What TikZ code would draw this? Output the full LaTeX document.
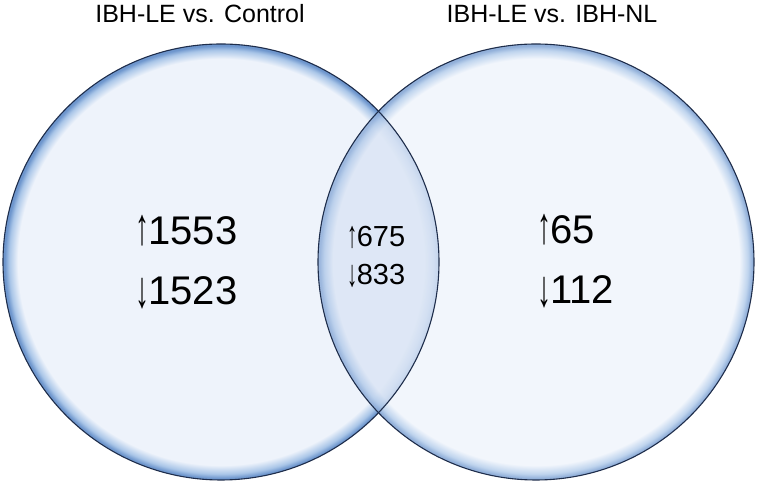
\documentclass[tikz,border=0pt]{standalone}
\usepackage{fontspec}
\setmainfont{Liberation Sans}
\usepackage{graphicx}
\usetikzlibrary{positioning}
\definecolor{vennfill}{RGB}{238, 243, 251}
\definecolor{vennglow}{RGB}{170, 198, 232}
\definecolor{vennedge}{RGB}{110, 150, 205}
\definecolor{vennline}{RGB}{30, 45, 75}
\definecolor{lenstint}{RGB}{190, 208, 236}
\pgfdeclareradialshading{venn}{\pgfpoint{0bp}{0bp}}{%
  color(0bp)=(vennfill); color(23.3bp)=(vennfill); color(24.3bp)=(vennglow);
  color(24.8bp)=(vennedge); color(25bp)=(vennedge); color(50bp)=(vennedge)}
\newcommand{\upar}{\raisebox{-0.02em}{\scalebox{0.7}[1.3]{↑}}\hspace{-0.02em}}
\newcommand{\downar}{\raisebox{-0.08em}{\scalebox{0.7}[1.3]{↓}}\hspace{-0.02em}}

\begin{document}
\begin{tikzpicture}[x=1pt, y=1pt,
    vennset/.style={shading=venn},
    count/.style={anchor=west, inner sep=0pt, font=\fontsize{40}{40}\selectfont},
    smallcount/.style={anchor=west, inner sep=0pt, font=\fontsize{29}{29}\selectfont},
    title/.style={inner sep=0pt, font=\fontsize{25}{25}\selectfont}]
    \useasboundingbox (0,0) rectangle (761,484);
    % the two sets
    \shade[vennset] (221,222) circle (218);
    \shade[vennset, fill opacity=0.75] (536,222) circle (218);
    \begin{scope}
        \clip (221,222) circle (218);
        \fill[lenstint, fill opacity=0.32] (536,222) circle (218);
    \end{scope}
    \draw[vennline, line width=1.1pt] (221,222) circle (218);
    \draw[vennline, line width=1.1pt] (536,222) circle (218);

    \node[title] (t1) at (200,470) {IBH-LE vs. Control};
    \node[title] (t2) at (552,470) {IBH-LE vs. IBH-NL};

    \node[count] (leftup) at (135,253) {\upar1553};
    \node[count] (leftdown) at (135,191) {\downar1523};
    \node[smallcount] (midup) at (347,247) {\upar675};
    \node[smallcount] (middown) at (347,208) {\downar833};
    \node[count] (rightup) at (537,254) {\upar65};
    \node[count] (rightdown) at (537,192) {\downar112};
\end{tikzpicture}
\end{document}
